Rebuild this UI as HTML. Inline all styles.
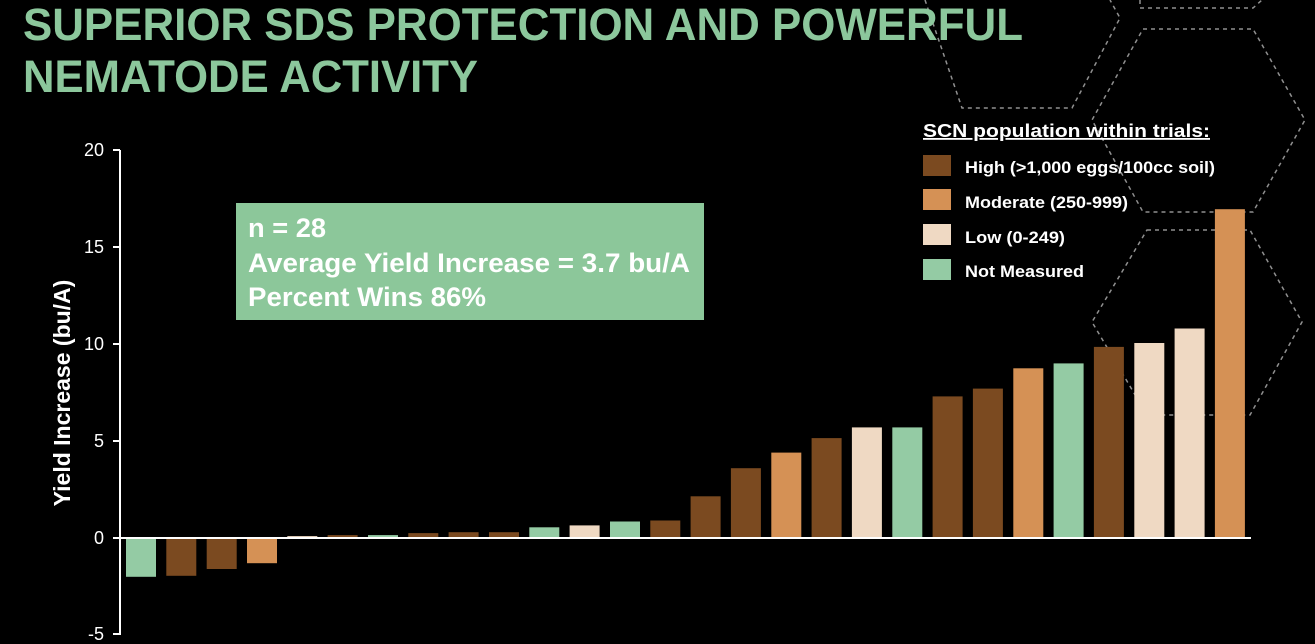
<!DOCTYPE html>
<html><head><meta charset="utf-8"><style>
html,body{margin:0;padding:0;background:#000;}
svg{display:block;}
text{font-family:"Liberation Sans",Arial,sans-serif;font-weight:bold;}
</style></head><body>
<svg width="1315" height="644" viewBox="0 0 1315 644" xmlns="http://www.w3.org/2000/svg">
<rect width="1315" height="644" fill="#000"/>
<g fill="none" stroke="#a0a0a0" stroke-width="1.5" stroke-dasharray="4,4" opacity="0.9">
<polyline points="925,0 962,108 1072,108 1120,18 1110,0"/>
<polyline points="1140,0 1140,8 1253,8 1262,0"/>
<polygon points="1143,29 1253,29 1305,120 1253,212 1143,212 1092,120"/>
<polygon points="1147,230 1250,230 1302,322 1250,415 1147,415 1092,322"/>
</g>
<text x="23" y="40" font-size="45" fill="#8cc79c" textLength="1000" lengthAdjust="spacingAndGlyphs">SUPERIOR SDS PROTECTION AND POWERFUL</text>
<text x="23" y="92" font-size="45" fill="#8cc79c" textLength="455" lengthAdjust="spacingAndGlyphs">NEMATODE ACTIVITY</text>

<g stroke="#fff" stroke-width="2">
<line x1="120" y1="150" x2="120" y2="635"/>
<line x1="113" y1="150" x2="120" y2="150"/>
<line x1="113" y1="247" x2="120" y2="247"/>
<line x1="113" y1="344" x2="120" y2="344"/>
<line x1="113" y1="441" x2="120" y2="441"/>
<line x1="113" y1="538" x2="120" y2="538"/>
<line x1="113" y1="634" x2="120" y2="634"/>
</g>
<g fill="#fff" font-size="18" text-anchor="end">
<text x="104" y="156" style="font-weight:normal">20</text>
<text x="104" y="253" style="font-weight:normal">15</text>
<text x="104" y="350" style="font-weight:normal">10</text>
<text x="104" y="447" style="font-weight:normal">5</text>
<text x="104" y="544" style="font-weight:normal">0</text>
<text x="104" y="640" style="font-weight:normal">-5</text>
</g>
<text transform="translate(70,393) rotate(-90)" font-size="23" fill="#fff" text-anchor="middle">Yield Increase (bu/A)</text>

<g id="bars"></g>
<line x1="120" y1="538" x2="1251" y2="538" stroke="#fff" stroke-width="2"/>

<rect x="236" y="203" width="468" height="117" fill="#8cc79a"/>
<g fill="#fff" font-size="27">
<text x="248" y="237" textLength="78" lengthAdjust="spacingAndGlyphs">n = 28</text>
<text x="248" y="272" textLength="442" lengthAdjust="spacingAndGlyphs">Average Yield Increase = 3.7 bu/A</text>
<text x="248" y="306" textLength="238" lengthAdjust="spacingAndGlyphs">Percent Wins 86%</text>
</g>

<text x="923" y="137" font-size="18" fill="#fff" text-decoration="underline" textLength="287" lengthAdjust="spacingAndGlyphs">SCN population within trials:</text>
<rect x="923" y="155" width="28" height="21" fill="#7b4a20"/>
<rect x="923" y="189" width="28" height="21" fill="#d59155"/>
<rect x="923" y="224" width="28" height="21" fill="#efd9c3"/>
<rect x="923" y="259" width="28" height="21" fill="#94cba4"/>
<g fill="#fff" font-size="16.5">
<text x="965" y="173" textLength="250" lengthAdjust="spacingAndGlyphs">High (&gt;1,000 eggs/100cc soil)</text>
<text x="965" y="208" textLength="163" lengthAdjust="spacingAndGlyphs">Moderate (250-999)</text>
<text x="965" y="243" textLength="100" lengthAdjust="spacingAndGlyphs">Low (0-249)</text>
<text x="965" y="277" textLength="119" lengthAdjust="spacingAndGlyphs">Not Measured</text>
</g>
</svg>
<script>
const C={G:"#94cba4",H:"#7b4a20",M:"#d59155",L:"#efd9c3"};
const d=[["G",-2.0],["H",-1.95],["H",-1.6],["M",-1.3],["L",0.1],["H",0.15],["G",0.15],["H",0.25],["H",0.3],["H",0.3],["G",0.55],["L",0.65],["G",0.85],["H",0.9],["H",2.15],["H",3.6],["M",4.4],["H",5.15],["L",5.7],["G",5.7],["H",7.3],["H",7.7],["M",8.75],["G",9.0],["H",9.85],["L",10.05],["L",10.8],["M",16.95]];
const g=document.getElementById("bars");const ns="http://www.w3.org/2000/svg";
d.forEach((b,i)=>{const r=document.createElementNS(ns,"rect");const x=126+i*40.33;const h=Math.abs(b[1])*19.4;const y=b[1]>=0?538-h:538;
r.setAttribute("x",x.toFixed(1));r.setAttribute("y",y.toFixed(1));r.setAttribute("width","30");r.setAttribute("height",h.toFixed(1));r.setAttribute("fill",C[b[0]]);g.appendChild(r);});
</script>
</body></html>
